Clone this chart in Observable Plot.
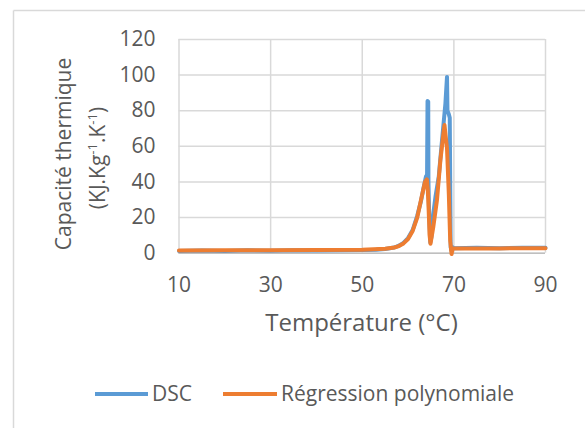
<!DOCTYPE html>
<html>
<head>
<meta charset="utf-8">
<script src="https://cdn.jsdelivr.net/npm/d3@7"></script>
<script src="https://cdn.jsdelivr.net/npm/@observablehq/plot@0.6"></script>
<style>
  html, body { margin: 0; padding: 0; background: #fff; overflow: hidden; }
  #chart { width: 585px; height: 428px; }
</style>
</head>
<body>
<div id="chart"></div>
<script>
// ---- Data ----
const dscTemp = [10, 15, 20, 25, 30, 35, 40, 45, 50, 53, 55, 57, 58, 59, 60, 61, 62, 62.8, 63.4, 63.9, 64.15, 64.25, 64.4, 64.45, 64.6, 64.85, 65.1, 65.5, 66.0, 66.7, 67.4, 68.15, 68.5, 68.6, 68.9, 69.1, 69.2, 69.3, 69.45, 69.6, 70, 75, 80, 85, 90];
const dscValue = [1.2, 1.5, 1.3, 1.6, 1.4, 1.6, 1.5, 1.7, 1.8, 2.0, 2.4, 3.2, 4.2, 5.8, 8.5, 13, 21, 29, 37, 43, 44, 85.5, 85, 40, 22, 6, 9, 22, 32, 43, 63, 84, 99, 80, 78, 76, 40, 3.4, 1.5, 3.5, 2.8, 3.0, 2.8, 3.1, 3.0];

const regTemp = [10, 20, 30, 40, 50, 55, 57, 58, 59, 60, 61, 62, 63, 63.7, 64.1, 64.3, 64.5, 64.7, 64.9, 65.5, 66.3, 67.05, 67.8, 67.95, 68.2, 68.5, 68.9, 69.2, 69.5, 69.7, 75, 80, 90];
const regValue = [1.5, 1.6, 1.7, 1.8, 2.0, 2.5, 3.2, 4.0, 5.5, 8.0, 12.5, 20, 32, 40, 41.5, 36, 24, 10, 5.3, 14.6, 29.6, 52, 69, 72, 66, 59, 33, 7, -0.5, 2.6, 2.7, 2.7, 2.8];

const xTicks = [10, 30, 50, 70, 90];
const yTicks = [0, 20, 40, 60, 80, 100, 120];
const seriesNames = ["DSC", "Régression polynomiale"];
const seriesColors = ["#5B9BD5", "#ED7D31"];
const xTitle = "Température (°C)";
const yTitleLine1 = "Capacité thermique";

const dsc = dscTemp.map((t, i) => ({t, v: dscValue[i]}));
const reg = regTemp.map((t, i) => ({t, v: regValue[i]}));

const FONT = "'Open Sans', sans-serif";
const FS = 21;
const TXT = "#595959";

const plot = Plot.plot({
  width: 585,
  height: 428,
  marginLeft: 178.5,
  marginRight: 40,
  marginTop: 39,
  marginBottom: 175.3,
  style: {fontFamily: FONT, fontSize: FS + "px", color: TXT, background: "#fff", overflow: "hidden"},
  x: {domain: [10, 90]},
  y: {domain: [0, 120]},
  marks: [
    Plot.gridX(xTicks, {stroke: "#d9d9d9", strokeOpacity: 1, strokeWidth: 1.5}),
    Plot.gridY(yTicks, {stroke: "#d9d9d9", strokeOpacity: 1, strokeWidth: 1.5}),
    Plot.ruleY([0], {stroke: "#bfbfbf", strokeWidth: 1.5}),
    Plot.axisX(xTicks, {tickSize: 0, tickPadding: 24, label: null, fill: TXT, fontSize: FS}),
    Plot.axisY(yTicks, {tickSize: 0, tickPadding: 23.5, label: null, fill: TXT, fontSize: FS}),
    Plot.line(dsc, {x: "t", y: "v", stroke: seriesColors[0], strokeWidth: 4, strokeLinejoin: "round"}),
    Plot.line(reg, {x: "t", y: "v", stroke: seriesColors[1], strokeWidth: 4, strokeLinejoin: "round"})
  ]
});

document.getElementById("chart").appendChild(plot);

const svg = d3.select(plot);
// outer chart border (left and top edges visible in the crop)
svg.append("line").attr("x1", 13.5).attr("x2", 13.5).attr("y1", 10.5).attr("y2", 428).attr("stroke", "#d9d9d9").attr("stroke-width", 1.5);
svg.append("line").attr("x1", 13.5).attr("x2", 585).attr("y1", 10.5).attr("y2", 10.5).attr("stroke", "#d9d9d9").attr("stroke-width", 1.5);

// x title
svg.append("text").attr("x", 361.5).attr("y", 323).attr("dy", "0.35em")
  .attr("text-anchor", "middle").attr("fill", TXT).attr("font-size", 24).attr("font-family", FONT)
  .text(xTitle);

// y title line 1
svg.append("text").attr("transform", "translate(64,154) rotate(-90)").attr("dy", "0.35em")
  .attr("text-anchor", "middle").attr("fill", TXT).attr("font-size", FS).attr("font-family", FONT)
  .text(yTitleLine1);
// y title line 2 with superscripts
const t2 = svg.append("text").attr("transform", "translate(98,158) rotate(-90)").attr("dy", "0.35em")
  .attr("text-anchor", "middle").attr("fill", TXT).attr("font-size", FS).attr("font-family", FONT);
t2.append("tspan").text("(KJ.Kg");
t2.append("tspan").attr("dy", -8).attr("font-size", 13).text("-1");
t2.append("tspan").attr("dy", 8).text(".K");
t2.append("tspan").attr("dy", -8).attr("font-size", 13).text("-1");
t2.append("tspan").attr("dy", 8).text(")");

// legend
const legY = 394;
const leg = [
  {x1: 95, x2: 148, tx: 152},
  {x1: 223, x2: 277, tx: 281}
];
leg.forEach((l, i) => {
  svg.append("line").attr("x1", l.x1).attr("x2", l.x2).attr("y1", legY).attr("y2", legY)
    .attr("stroke", seriesColors[i]).attr("stroke-width", 4);
  svg.append("text").attr("x", l.tx).attr("y", legY).attr("dy", "0.35em")
    .attr("text-anchor", "start")
    .attr("fill", TXT).attr("font-size", FS).attr("font-family", FONT).text(seriesNames[i]);
});
</script>
</body>
</html>
